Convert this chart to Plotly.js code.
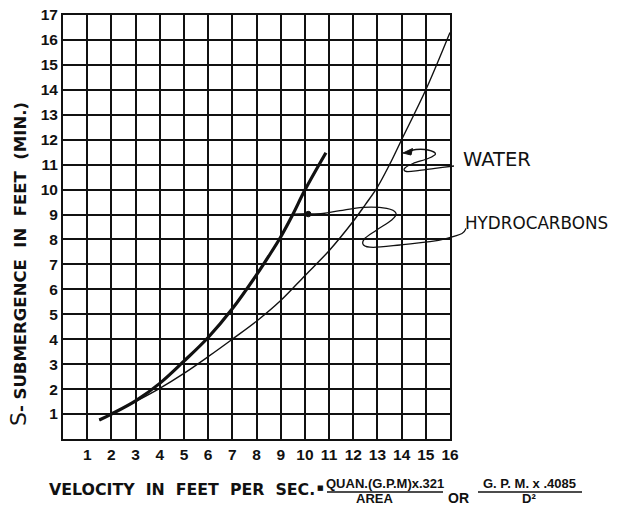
<!DOCTYPE html>
<html>
<head>
<meta charset="utf-8">
<script src="https://cdn.plot.ly/plotly-3.0.1.min.js"></script>
<style>html,body{margin:0;padding:0;background:#fff;}#chart{width:622px;height:507px;}</style>
</head>
<body>
<div id="chart"></div>
<script>
// ---- data ----
const xTickVals = [1,2,3,4,5,6,7,8,9,10,11,12,13,14,15,16];
const yTickVals = [1,2,3,4,5,6,7,8,9,10,11,12,13,14,15,16,17];

const hydroX = [1.5, 2, 3, 4, 5, 6, 7, 8, 8.5, 9, 9.5, 10, 10.87];
const hydroY = [0.76, 1.0, 1.53, 2.23, 3.12, 4.07, 5.22, 6.58, 7.32, 8.1, 9.0, 9.98, 11.48];

const waterX = [1.5, 2, 3, 4, 5, 6, 7, 8, 9, 10, 11, 12, 12.5, 13, 13.5, 14, 15, 16];
const waterY = [0.76, 1.0, 1.5, 2.03, 2.63, 3.3, 4.0, 4.72, 5.55, 6.55, 7.55, 8.73, 9.4, 10.1, 11.0, 12.0, 14.0, 16.3];

// ---- layout helpers (plot area in pixels) ----
const W = 622, H = 507;
const L = 63, R = 450, T = 15, B = 439;
function px(x){ return (x - L) / (R - L); }
function py(y){ return (B - y) / (B - T); }
function smoothPath(pts){
  const p = pts.map(q => [px(q[0]), py(q[1])]);
  let d = 'M ' + p[0][0] + ',' + p[0][1];
  for (let i = 0; i < p.length - 1; i++) {
    const p0 = p[i-1] || p[i], p1 = p[i], p2 = p[i+1], p3 = p[i+2] || p2;
    const c1 = [p1[0] + (p2[0]-p0[0])/6, p1[1] + (p2[1]-p0[1])/6];
    const c2 = [p2[0] - (p3[0]-p1[0])/6, p2[1] - (p3[1]-p1[1])/6];
    d += ' C ' + c1[0] + ',' + c1[1] + ' ' + c2[0] + ',' + c2[1] + ' ' + p2[0] + ',' + p2[1];
  }
  return d;
}
function polyPath(pts, close){
  let d = pts.map((q,i) => (i ? 'L ' : 'M ') + px(q[0]) + ',' + py(q[1])).join(' ');
  return close ? d + ' Z' : d;
}

const waterLeader = [[408,152],[416,149.5],[428,150],[435.5,154],[428,158.5],[413,163.5],[404.5,168.5],[406.5,171.5],[418,170.7],[435,168.3],[454,166]];
const hydroLeader = [[308,214],[323,213.5],[340,210.7],[363,207.3],[386.7,208.3],[396,213.3],[391.7,220],[376.7,230],[365,238.3],[363.5,245],[373.3,247.3],[400,245],[430,241.7],[447,238.3],[462,233.5],[466,228.5]];

const lineBlack = {color:'#111', width:1.3};

const shapes = [
  {type:'path', xref:'paper', yref:'paper', path: smoothPath(waterLeader), line: lineBlack},
  {type:'path', xref:'paper', yref:'paper', path: polyPath([[403,153],[412.5,148.5],[411,155]], true), line:{color:'#111', width:1}, fillcolor:'#111'},
  {type:'path', xref:'paper', yref:'paper', path: smoothPath(hydroLeader), line: lineBlack},
  {type:'line', xref:'paper', yref:'paper', x0: px(293), y0: py(214.5), x1: px(308), y1: py(214.2), line:{color:'#111', width:2.2}},
  {type:'circle', xref:'paper', yref:'paper', x0: px(305.5), y0: py(211.3), x1: px(311), y1: py(216.8), line:{color:'#111', width:1}, fillcolor:'#111'},
  // fraction bars
  {type:'line', xref:'paper', yref:'paper', x0: px(327), y0: py(492), x1: px(443), y1: py(492), line:{color:'#111', width:1.5}},
  {type:'line', xref:'paper', yref:'paper', x0: px(478), y0: py(492), x1: px(582), y1: py(492), line:{color:'#111', width:1.5}}
];

const fBold = {family:'DejaVu Sans, sans-serif', size:15.8, color:'#111', weight:'bold'};
const fFrac = {family:'Liberation Sans, Arial, sans-serif', size:13, color:'#111', weight:'bold'};
const fHand = {family:'DejaVu Sans, sans-serif', size:16.8, color:'#111'};

function ann(text, x, y, font, xanchor, extra){
  return Object.assign({text:text, xref:'paper', yref:'paper', x:px(x), y:py(y), xanchor:xanchor||'center', yanchor:'middle', showarrow:false, font:font, borderpad:0}, extra||{});
}

const annotations = [
  ann('<span style="font-size:22px;font-weight:normal">S</span>- SUBMERGENCE  IN  FEET  (MIN.)', 18, 264, {family:'DejaVu Sans, sans-serif', size:16.5, color:'#111', weight:'bold'}, 'center', {textangle:-90}),
  ann('VELOCITY  IN  FEET  PER  SEC.', 48, 489, fBold, 'left'),
  ann('■', 320.5, 488, {family:'DejaVu Sans, sans-serif', size:7, color:'#111'}, 'center'),
  ann('QUAN.(G.P.M)x.321', 385, 483.5, fFrac, 'center'),
  ann('AREA', 374, 498.5, fFrac, 'center'),
  ann('OR', 458.5, 498, {family:'Liberation Sans, Arial, sans-serif', size:14, color:'#111', weight:'bold'}, 'center'),
  ann('G. P. M. x .4085', 529, 483.5, fFrac, 'center'),
  ann('D²', 529, 498.5, fFrac, 'center'),
  ann('WATER', 462, 160, {family:'DejaVu Sans, sans-serif', size:19.5, color:'#111'}, 'left'),
  ann('HYDROCARBONS', 464, 222.5, fHand, 'left')
];

const traces = [
  {x: waterX, y: waterY, type:'scatter', mode:'lines', name:'Water', line:{color:'#111', width:1.4, shape:'spline', smoothing:1}, hoverinfo:'skip'},
  {x: hydroX, y: hydroY, type:'scatter', mode:'lines', name:'Hydrocarbons', line:{color:'#111', width:3.2, shape:'spline', smoothing:1}, hoverinfo:'skip'}
];

const tickFont = {family:'Liberation Sans, Arial, sans-serif', size:15.5, color:'#111', weight:'bold'};

const layout = {
  width: W, height: H,
  margin: {l: L, r: W - R, t: T, b: H - B, pad: 0},
  paper_bgcolor:'#fff', plot_bgcolor:'#fff',
  showlegend:false,
  xaxis: {range:[0,16], tickvals:xTickVals, ticktext:xTickVals.map(String), showgrid:true, gridcolor:'#111', gridwidth:2,
          zeroline:false, showline:true, mirror:true, linecolor:'#111', linewidth:2, ticks:'', ticklen:0, tickfont:tickFont, fixedrange:true},
  yaxis: {range:[0,17], tickvals:yTickVals, ticktext:yTickVals.map(String), showgrid:true, gridcolor:'#111', gridwidth:2,
          zeroline:false, showline:true, mirror:true, linecolor:'#111', linewidth:2, ticks:'', ticklen:0, tickfont:tickFont, fixedrange:true},
  shapes: shapes,
  annotations: annotations
};

Plotly.newPlot('chart', traces, layout, {staticPlot:true, displayModeBar:false});
</script>
</body>
</html>
